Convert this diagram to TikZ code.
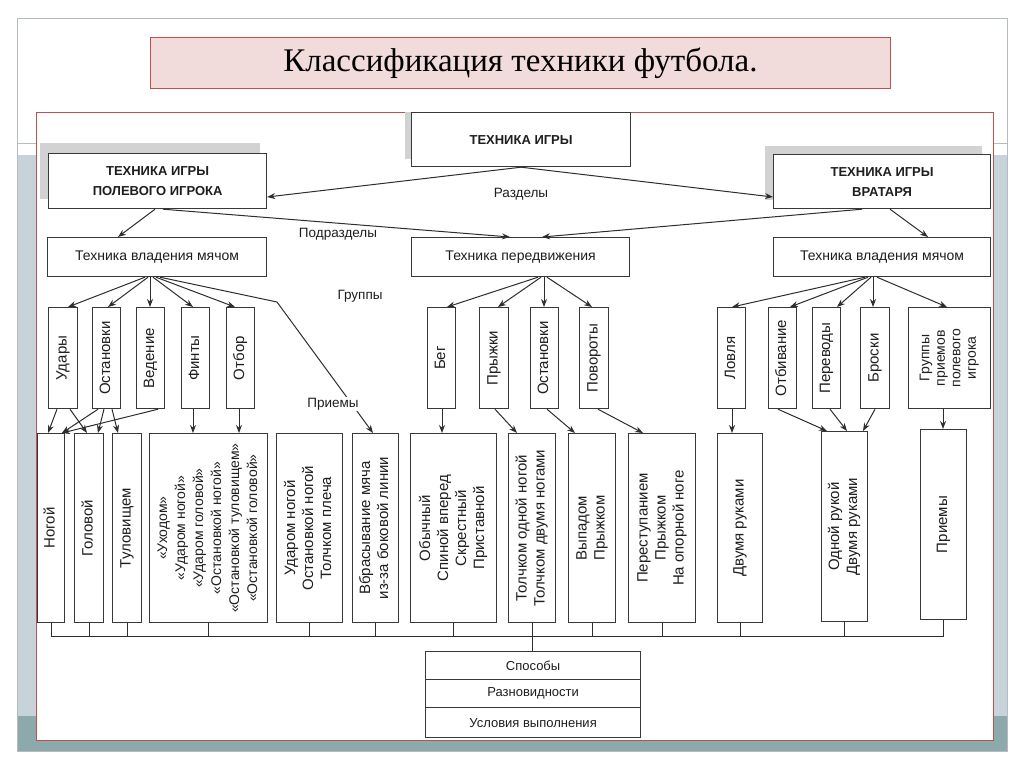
\documentclass[tikz,border=0pt]{standalone}
\usepackage{fontspec}
\setmainfont{Liberation Sans}
\newfontfamily\titlefont{Liberation Serif}
\usetikzlibrary{arrows.meta,calc}
\definecolor{linec}{HTML}{2E2E2E}
\definecolor{boxc}{HTML}{383838}
\definecolor{textc}{HTML}{1E1E1E}
\definecolor{redc}{HTML}{C0504D}
\definecolor{pinkc}{HTML}{F2DCDB}
\definecolor{bandc}{HTML}{C8D3D9}
\definecolor{tealc}{HTML}{8CAAAB}
\definecolor{framec}{HTML}{B4BCC0}
\definecolor{shadowc}{HTML}{D2D2D2}
\newcommand\vtext[1]{\rotatebox{90}{\begin{tabular}{@{}c@{}}#1\end{tabular}}}
\begin{document}
\begin{tikzpicture}[x=1pt,y=-1pt,
 box/.style={draw=boxc, line width=1.2pt, fill=white, inner sep=0pt, anchor=north west, align=center, text=textc, font=\fontsize{14}{17}\selectfont},
 capbox/.style={box, font=\bfseries\fontsize{13}{20}\selectfont},
 vbox/.style={box, font=\fontsize{15}{18}\selectfont},
 gbox/.style={box, font=\fontsize{14}{15.5}\selectfont},
 fbx/.style={box, font=\fontsize{14}{18}\selectfont},
 arr/.style={draw=linec, line width=1pt, -{Stealth[length=8pt,width=6pt]}},
 ln/.style={draw=linec, line width=1pt},
 lbl/.style={font=\fontsize{13.5}{16}\selectfont, text=textc, inner sep=1pt},
 shadowrect/.style={fill=shadowc, draw=none},
]
\useasboundingbox (0,0) rectangle (1024,768);
% slide background
\fill[white] (0,0) rectangle (1024,768);
\fill[bandc] (17,155) rectangle (1007,716);
\fill[tealc] (17,716) rectangle (1007,751);
\draw[framec, line width=0.8pt] (17,143) -- (1007,143);
\draw[framec, line width=0.8pt] (17,18) rectangle (1007,751);
\draw[redc, line width=0.9pt, fill=white] (36,112) rectangle (993,740);
% title
\node[draw=redc, fill=pinkc, line width=0.8pt, minimum width=740pt, minimum height=51pt, anchor=north west, inner sep=0pt] (title) at (150,37) {\titlefont\fontsize{33}{36}\selectfont Классификация техники футбола.};
% shadows
\fill[shadowrect] (405,112) rectangle (624,159);
\fill[shadowrect] (40,143) rectangle (260,199);
\fill[shadowrect] (765,146) rectangle (982,200);
% level 1
\node[capbox, minimum width=219pt, minimum height=54pt] (tig) at (411,112) {ТЕХНИКА ИГРЫ};
\node[capbox, minimum width=218pt, minimum height=55pt] (pol) at (48,153) {ТЕХНИКА ИГРЫ\\ПОЛЕВОГО ИГРОКА};
\node[capbox, minimum width=217pt, minimum height=54pt] (vrt) at (773,154) {ТЕХНИКА ИГРЫ\\ВРАТАРЯ};
% level 2
\node[box, minimum width=219pt, minimum height=39pt] (vl) at (47,237) {Техника владения мячом};
\node[box, minimum width=218pt, minimum height=39pt] (per) at (411,237) {Техника передвижения};
\node[box, minimum width=217pt, minimum height=39pt] (vr) at (773,237) {Техника владения мячом};
% level 3
\node[vbox, minimum width=29pt, minimum height=101pt] (ud) at (48,307) {\vtext{Удары}};
\node[vbox, minimum width=28pt, minimum height=101pt] (osta) at (92,307) {\vtext{Остановки}};
\node[vbox, minimum width=28pt, minimum height=101pt] (ved) at (136,307) {\vtext{Ведение}};
\node[vbox, minimum width=28pt, minimum height=101pt] (fin) at (181,307) {\vtext{Финты}};
\node[vbox, minimum width=28pt, minimum height=101pt] (otb) at (226,307) {\vtext{Отбор}};
\node[vbox, minimum width=28pt, minimum height=101pt] (beg) at (427,307) {\vtext{Бег}};
\node[vbox, minimum width=29pt, minimum height=101pt] (pry) at (479,307) {\vtext{Прыжки}};
\node[vbox, minimum width=28pt, minimum height=101pt] (ostb) at (530,307) {\vtext{Остановки}};
\node[vbox, minimum width=29pt, minimum height=101pt] (pov) at (579,307) {\vtext{Повороты}};
\node[vbox, minimum width=28pt, minimum height=101pt] (lov) at (717,307) {\vtext{Ловля}};
\node[vbox, minimum width=28pt, minimum height=101pt] (otbiv) at (768,307) {\vtext{Отбивание}};
\node[vbox, minimum width=28pt, minimum height=101pt] (perev) at (812,307) {\vtext{Переводы}};
\node[vbox, minimum width=29pt, minimum height=101pt] (bros) at (860,307) {\vtext{Броски}};
\node[gbox, minimum width=82pt, minimum height=101pt] (grp) at (908,307) {\vtext{Группы\\приемов\\полевого\\игрока}};
% level 4
\node[vbox, minimum width=27pt, minimum height=189pt] (nog) at (37,433) {\vtext{Ногой}};
\node[vbox, minimum width=29pt, minimum height=189pt] (gol) at (74,433) {\vtext{Головой}};
\node[vbox, minimum width=29pt, minimum height=189pt] (tul) at (112,433) {\vtext{Туловищем}};
\node[fbx, minimum width=118pt, minimum height=189pt] (fbox) at (149,433) {\vtext{«Уходом»\\«Ударом ногой»\\«Ударом головой»\\«Остановкой ногой»\\«Остановкой туловищем»\\«Остановкой головой»}};
\node[vbox, minimum width=66pt, minimum height=189pt] (udn) at (276,433) {\vtext{Ударом ногой\\Остановкой ногой\\Толчком плеча}};
\node[vbox, minimum width=46pt, minimum height=189pt] (vbr) at (352,433) {\vtext{Вбрасывание мяча\\из-за боковой линии}};
\node[vbox, minimum width=86pt, minimum height=189pt] (obych) at (410,433) {\vtext{Обычный\\Спиной вперед\\Скрестный\\Приставной}};
\node[vbox, minimum width=47pt, minimum height=189pt] (tol) at (508,433) {\vtext{Толчком одной ногой\\Толчком двумя ногами}};
\node[vbox, minimum width=47pt, minimum height=189pt] (vyp) at (568,433) {\vtext{Выпадом\\Прыжком}};
\node[vbox, minimum width=67pt, minimum height=189pt] (perec) at (628,433) {\vtext{Переступанием\\Прыжком\\На опорной ноге}};
\node[vbox, minimum width=45pt, minimum height=189pt] (dvum) at (717,433) {\vtext{Двумя руками}};
\node[vbox, minimum width=46pt, minimum height=190pt] (odn) at (821,431) {\vtext{Одной рукой\\Двумя руками}};
\node[vbox, minimum width=46pt, minimum height=190pt] (prm) at (920,429) {\vtext{Приемы}};
% bottom table
\node[box, minimum width=215pt, minimum height=28pt, font=\fontsize{13}{15}\selectfont] (sp) at (425,651) {Способы};
\node[box, minimum width=215pt, minimum height=28pt, font=\fontsize{13}{15}\selectfont] (raz) at (425,679) {Разновидности};
\node[box, minimum width=215pt, minimum height=30pt, font=\fontsize{13}{15}\selectfont] (usl) at (425,707) {Условия выполнения};
% labels
\node[lbl] (lraz) at (521,194) {Разделы};
\node[lbl] (lpod) at (338,234) {Подразделы};
\node[lbl] (lgr) at (360,296) {Группы};
% level 1 -> 2
\draw[arr] (tig.south) -- (pol.east |- 0,197);
\draw[arr] (tig.south) -- (vrt.west |- 0,197);
\draw[arr] (155,0 |- pol.south) -- (118,0 |- vl.north);
\draw[arr] (163,0 |- pol.south) -- (510,0 |- per.north);
\draw[arr] (862,0 |- vrt.south) -- (542,0 |- per.north);
\draw[arr] (890,0 |- vrt.south) -- (928,0 |- vr.north);
% level 2 -> 3
\draw[arr] (145,0 |- vl.south) -- (68,0 |- ud.north);
\draw[arr] (148,0 |- vl.south) -- (108,0 |- osta.north);
\draw[arr] (150,0 |- vl.south) -- (150,0 |- ved.north);
\draw[arr] (153,0 |- vl.south) -- (193,0 |- fin.north);
\draw[arr] (156,0 |- vl.south) -- (235,0 |- otb.north);
\coordinate (bendp) at (277,302);
\draw[arr] (160,0 |- vl.south) -- (bendp) -- (373,0 |- vbr.north);
\node[lbl, fill=white] (lpr) at (333,404) {Приемы};
\draw[arr] (538,0 |- per.south) -- (447,0 |- beg.north);
\draw[arr] (541,0 |- per.south) -- (498,0 |- pry.north);
\draw[arr] (544,0 |- per.south) -- (544,0 |- ostb.north);
\draw[arr] (547,0 |- per.south) -- (592,0 |- pov.north);
\draw[arr] (865,0 |- vr.south) -- (732,0 |- lov.north);
\draw[arr] (868,0 |- vr.south) -- (790,0 |- otbiv.north);
\draw[arr] (871,0 |- vr.south) -- (837,0 |- perev.north);
\draw[arr] (873,0 |- vr.south) -- (873,0 |- bros.north);
\draw[arr] (877,0 |- vr.south) -- (947,0 |- grp.north);
% level 3 -> 4
\draw[arr] (57,0 |- ud.south) -- (48,0 |- nog.north);
\draw[arr] (70,0 |- ud.south) -- (87,0 |- gol.north);
\draw[arr] (98,0 |- osta.south) -- (62,0 |- nog.north);
\draw[arr] (104,0 |- osta.south) -- (98,0 |- gol.north);
\draw[arr] (112,0 |- osta.south) -- (118,0 |- tul.north);
\draw[arr] (158,0 |- ved.south) -- (62,0 |- nog.north);
\draw[arr] (193,0 |- fin.south) -- (193,0 |- fbox.north);
\draw[arr] (239,0 |- otb.south) -- (239,0 |- fbox.north);
\draw[arr] (442,0 |- beg.south) -- (442,0 |- obych.north);
\draw[arr] (495,0 |- pry.south) -- (517,0 |- tol.north);
\draw[arr] (547,0 |- ostb.south) -- (575,0 |- vyp.north);
\draw[arr] (598,0 |- pov.south) -- (643,0 |- perec.north);
\draw[arr] (732,0 |- lov.south) -- (732,0 |- dvum.north);
\draw[arr] (778,0 |- otbiv.south) -- (827,0 |- odn.north);
\draw[arr] (830,0 |- perev.south) -- (847,0 |- odn.north);
\draw[arr] (875,0 |- bros.south) -- (863,0 |- odn.north);
\draw[arr] (943,0 |- grp.south) -- (943,0 |- prm.north);
% bottom bus
\coordinate (busl) at (nog.south |- 0,636);
\coordinate (busr) at (prm.south |- 0,636);
\draw[ln] (busl) -- (busr);
\foreach \n in {nog,gol,tul,fbox,udn,vbr,obych,vyp,perec,dvum,odn,prm}
  \draw[ln] (\n.south) -- (\n.south |- busl);
\draw[ln] (tol.south) -- (sp.north -| tol.south);
\end{tikzpicture}
\end{document}
